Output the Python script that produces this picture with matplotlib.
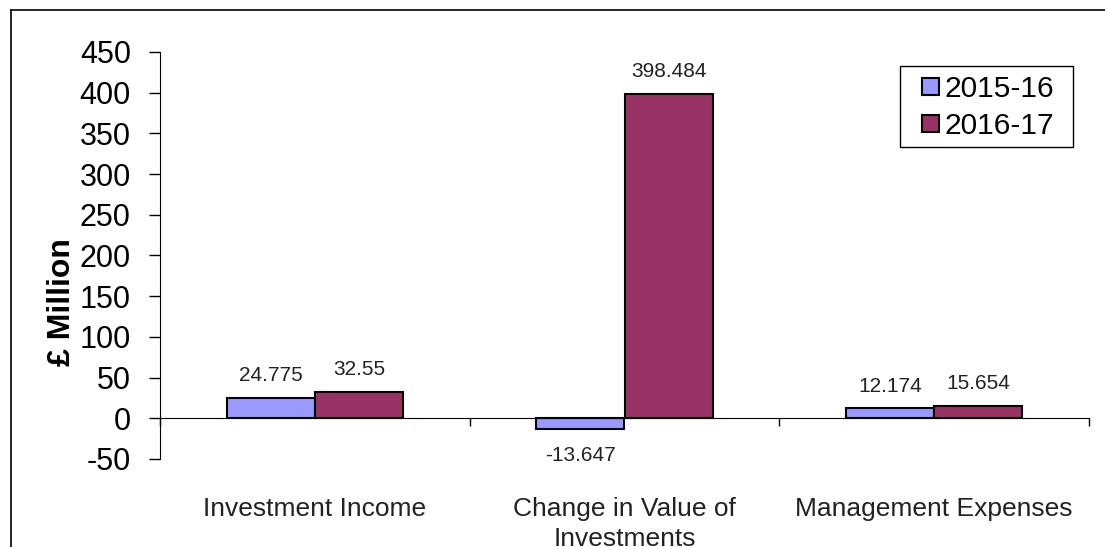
import matplotlib.pyplot as plt
from matplotlib.lines import Line2D
from matplotlib.patches import Rectangle
import numpy as np

plt.rcParams['font.family'] = ['Liberation Sans', 'DejaVu Sans']
plt.rcParams['axes.unicode_minus'] = False

# data
categories = ['Investment Income', 'Change in Value of\nInvestments', 'Management Expenses']
series_names = ['2015-16', '2016-17']
values_1516 = [24.775, -13.647, 12.174]
values_1617 = [32.55, 398.484, 15.654]
labels_1516 = ['24.775', '-13.647', '12.174']
labels_1617 = ['32.55', '398.484', '15.654']
yticks = [-50, 0, 50, 100, 150, 200, 250, 300, 350, 400, 450]

blue = '#9999FF'
maroon = '#993366'

fig = plt.figure(figsize=(11.05, 5.47), dpi=100)
W, H = 1105, 547
ax = fig.add_axes([160 / W, 1 - 459 / H, (1089 - 160) / W, (459 - 52) / H])

x = np.arange(len(categories)) + 0.5
w = 0.285
b1 = ax.bar(x - w / 2, values_1516, w, color=blue, edgecolor='black', linewidth=1.5, label=series_names[0], zorder=3)
b2 = ax.bar(x + w / 2, values_1617, w, color=maroon, edgecolor='black', linewidth=1.5, label=series_names[1], zorder=3)

# value labels
for bars, labs in [(b1, labels_1516), (b2, labels_1617)]:
    for rect, lab in zip(bars, labs):
        v = rect.get_height()
        xc = rect.get_x() + rect.get_width() / 2
        if v >= 0:
            ax.annotate(lab, (xc, v), xytext=(0, 16), textcoords='offset points',
                        ha='center', va='center', fontsize=15, color='#222222')
        else:
            ax.annotate(lab, (xc, v), xytext=(0, -19), textcoords='offset points',
                        ha='center', va='center', fontsize=15, color='#222222')

ax.set_xlim(0, 3)
ax.set_ylim(-50, 450)
ax.set_yticks(yticks)
ax.tick_params(axis='y', labelsize=22, length=8, width=1, pad=13, direction='out')
ax.set_xticks([0, 1, 2, 3])
ax.set_xticklabels([])
ax.tick_params(axis='x', length=6, width=1, direction='out')

ax.spines['top'].set_visible(False)
ax.spines['right'].set_visible(False)
ax.spines['bottom'].set_position(('data', 0))
ax.spines['bottom'].set_zorder(4)

# y axis title
fig.text(62 / W, 1 - 302 / H, '£ Million', rotation=90, ha='center', va='center',
         fontsize=23, fontweight='bold')

# category labels under the plot
trans = ax.get_xaxis_transform()
for xi, cat in zip(x, categories):
    ax.text(xi, -0.093, cat, transform=trans, ha='center', va='top',
            fontsize=19, color='#222222', linespacing=1.3)

# legend (frame drawn separately)
leg = ax.legend(loc='upper left', bbox_to_anchor=(922 / W, 1 - 75 / H),
                bbox_transform=fig.transFigure, fontsize=21.5, frameon=False,
                handlelength=0.57, handleheight=0.53, handletextpad=0.2,
                borderpad=0, labelspacing=0.3, borderaxespad=0)
fig.add_artist(Rectangle((900 / W, 1 - 147 / H), 173 / W, 81 / H, transform=fig.transFigure,
                         facecolor='none', edgecolor='black', lw=1))

# outer border (top and left visible)
fig.add_artist(Line2D([11 / W, 1.0], [1 - 10 / H, 1 - 10 / H], color='black', lw=1.2, transform=fig.transFigure))
fig.add_artist(Line2D([11 / W, 11 / W], [1 - 10 / H, 0], color='black', lw=1.2, transform=fig.transFigure))

fig.savefig('out.png', dpi=100)
